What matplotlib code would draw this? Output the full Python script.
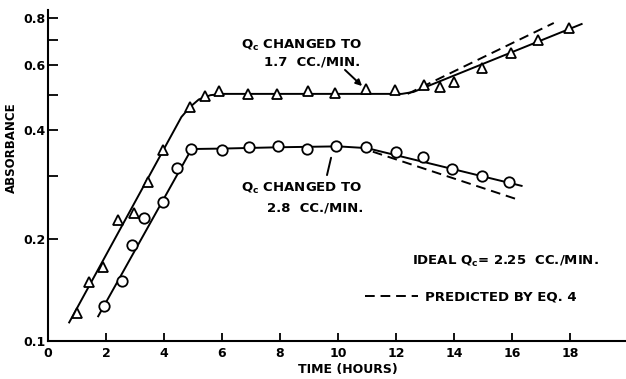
import numpy as np
import matplotlib.pyplot as plt

plt.rcParams['font.family'] = ['DejaVu Sans']
plt.rcParams['font.weight'] = 'bold'
plt.rcParams['mathtext.default'] = 'bf'

# measured points, Q changed to 1.7 cc/min (triangles)
tri_hours = [1.0, 1.4, 1.9, 2.4, 2.95, 3.45, 3.95, 4.9, 5.4, 5.9, 6.9, 7.9,
             8.95, 9.9, 10.95, 11.95, 12.95, 13.5, 14.0, 14.95, 15.95, 16.9, 17.95]
tri_abs = [0.122, 0.150, 0.166, 0.227, 0.237, 0.289, 0.354, 0.463, 0.496, 0.511,
           0.502, 0.502, 0.511, 0.505, 0.518, 0.514, 0.531, 0.524, 0.541, 0.589,
           0.646, 0.699, 0.753]

# measured points, Q changed to 2.8 cc/min (circles)
circ_hours = [1.94, 2.55, 2.9, 3.3, 3.97, 4.45, 4.94, 6.0, 6.93, 7.92, 8.93,
              9.93, 10.97, 12.0, 12.94, 13.94, 14.98, 15.9]
circ_abs = [0.128, 0.151, 0.192, 0.229, 0.254, 0.316, 0.356, 0.354, 0.360, 0.363,
            0.356, 0.363, 0.360, 0.350, 0.339, 0.314, 0.300, 0.289]

# drawn-in curves through the points
fit_hi_hours = [0.73, 4.6, 4.9, 5.2, 5.6, 6.0, 12.2, 12.6, 13.0, 18.4]
fit_hi_abs = [0.114, 0.435, 0.463, 0.485, 0.498, 0.502, 0.502, 0.508, 0.523, 0.771]
fit_lo_hours = [1.73, 4.95, 6.0, 8.0, 10.0, 11.0, 16.33]
fit_lo_abs = [0.119, 0.356, 0.357, 0.360, 0.362, 0.358, 0.282]

# predicted by eq. 4
pred_hi_hours = [12.4, 17.44]
pred_hi_abs = [0.502, 0.776]
pred_lo_hours = [11.2, 16.16]
pred_lo_abs = [0.350, 0.259]

x_ticks = [0, 2, 4, 6, 8, 10, 12, 14, 16, 18]
y_ticks = [0.1, 0.2, 0.3, 0.4, 0.5, 0.6, 0.7, 0.8]
y_tick_labels = ['0.1', '0.2', '', '0.4', '', '0.6', '', '0.8']


# the paper's absorbance axis is close to log(A + 0.02)
def fwd(a):
    return np.log10(np.clip(a + 0.02, 1e-6, None))


def inv(v):
    return 10 ** v - 0.02


fig = plt.figure(figsize=(6.26, 3.79), dpi=100)
ax = fig.add_axes([0.0767, 0.1003, 0.9233, 0.8734])
ax.set_yscale('function', functions=(fwd, inv))

dash = (0, (5, 3))
ax.plot(fit_hi_hours, fit_hi_abs, color='black', lw=1.4, zorder=2)
ax.plot(fit_lo_hours, fit_lo_abs, color='black', lw=1.4, zorder=2)
pred_line, = ax.plot(pred_hi_hours, pred_hi_abs, color='black', lw=1.4,
                     linestyle=dash, zorder=2, label='PREDICTED BY EQ. 4')
ax.plot(pred_lo_hours, pred_lo_abs, color='black', lw=1.4, linestyle=dash, zorder=2)

ax.plot(tri_hours, tri_abs, linestyle='none', marker='^', markersize=7,
        mfc='white', mec='black', mew=1.3, zorder=3)
ax.plot(circ_hours, circ_abs, linestyle='none', marker='o', markersize=7.5,
        mfc='white', mec='black', mew=1.3, zorder=3)

ax.set_xlim(0, 19.93)
ax.set_ylim(0.1, 0.84)
ax.set_xticks(x_ticks)
ax.set_yticks(y_ticks)
ax.set_yticklabels(y_tick_labels)
ax.minorticks_off()

for side in ['top', 'right']:
    ax.spines[side].set_visible(False)
for side in ['left', 'bottom']:
    ax.spines[side].set_linewidth(1.5)

ax.tick_params(axis='y', direction='in', length=7, width=1.3, labelsize=9, pad=1.5)
ax.tick_params(axis='x', direction='in', length=6, width=1.3, labelsize=9, pad=4)

ax.set_ylabel('ABSORBANCE', fontsize=8.5, fontweight='bold')
ax.yaxis.set_label_coords(-0.052, 0.583)
ax.set_xlabel('TIME (HOURS)', fontsize=9, fontweight='bold')
ax.xaxis.set_label_coords(0.519, -0.068)

tk = dict(transform=ax.transAxes, fontsize=9.5, fontweight='bold', va='center')
ax.text(0.543, 0.894, 'Q$_c$ CHANGED TO', ha='right', **tk)
ax.text(0.540, 0.843, '1.7  CC./MIN.', ha='right', **tk)
ax.text(0.543, 0.462, 'Q$_c$ CHANGED TO', ha='right', **tk)
ax.text(0.545, 0.402, '2.8  CC./MIN.', ha='right', **tk)
ax.text(0.630, 0.239, 'IDEAL Q$_c$= 2.25  CC./MIN.', ha='left', **tk)

# pointers to the points where Q was changed
ax.annotate('', xy=(10.83, 0.527), xytext=(10.24, 0.582),
            arrowprops=dict(arrowstyle='-|>', color='black', lw=1.4,
                            mutation_scale=9, shrinkA=0, shrinkB=0))
ax.annotate('', xy=(9.76, 0.337), xytext=(9.62, 0.302),
            arrowprops=dict(arrowstyle='-', color='black', lw=1.4,
                            shrinkA=0, shrinkB=0))

ax.legend(handles=[pred_line], loc='center left', bbox_to_anchor=(0.548, 0.133),
          frameon=False, handlelength=4, handletextpad=0.6, borderpad=0,
          borderaxespad=0, prop=dict(size=9.5, weight='bold'))

fig.savefig('out.png', dpi=100)
